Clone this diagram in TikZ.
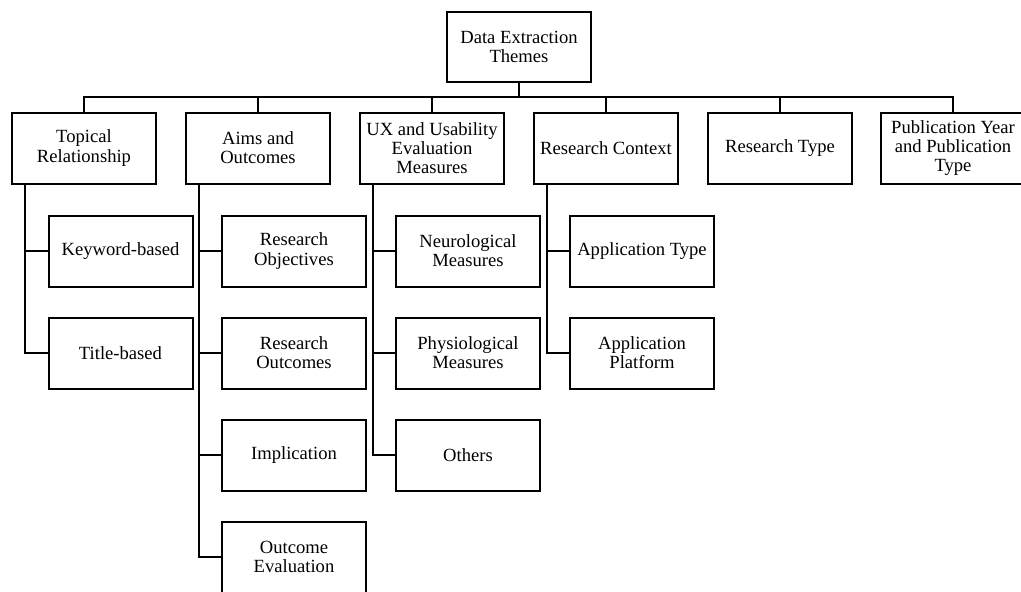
\documentclass[tikz,border=0pt]{standalone}
\usepackage{fontspec}
\setmainfont{Liberation Serif}
\begin{document}
\begin{tikzpicture}[x=1pt,y=-1pt,
  box/.style={draw=black, line width=2pt, fill=white, minimum width=144pt,
    minimum height=71pt, inner sep=0pt, align=center,
    font=\fontsize{18.6}{19.2}\selectfont},
  link/.style={draw=black, line width=2pt}]
\clip (0,0) rectangle (1021,592);
\fill[white] (0,0) rectangle (1021,592);

% root
\node[box, minimum height=70pt] (root) at (519,47) {Data Extraction\\Themes};

% first level
\node[box] (top) at (84,148)  {Topical\\Relationship};
\node[box] (aim) at (258,148) {Aims and\\Outcomes};
\node[box] (ux)  at (432,148) {UX and Usability\\Evaluation\\Measures};
\node[box] (ctx) at (606,148) {Research Context};
\node[box] (typ) at (780,148) {Research Type};
\node[box] (pub) at (953,148) {Publication Year\\and Publication\\Type};

% second level
\node[box] (kw)  at (120.5,251) {Keyword-based};
\node[box] (ti)  at (120.5,353) {Title-based};
\node[box] (ro)  at (294,251) {Research\\Objectives};
\node[box] (rout) at (294,353) {Research\\Outcomes};
\node[box] (imp) at (294,455) {Implication};
\node[box] (oe)  at (294,557) {Outcome\\Evaluation};
\node[box] (neu) at (468,251) {Neurological\\Measures};
\node[box] (phy) at (468,353) {Physiological\\Measures};
\node[box] (oth) at (468,455) {Others};
\node[box] (apt) at (642,251) {Application Type};
\node[box] (app) at (642,353) {Application\\Platform};

% bus from the root to the first level
\coordinate (bus) at (519,97);
\foreach \c in {top,aim,ux,ctx,typ,pub}
  \draw[link] (root.south) -- (bus) -| (\c.north);

% spines from each theme to its sub-themes
\foreach \p/\c in {top/kw,top/ti,aim/ro,aim/rout,aim/imp,aim/oe,
                   ux/neu,ux/phy,ux/oth,ctx/apt,ctx/app}
  \draw[link] ([xshift=14pt]\p.south west) |- (\c.west);
\end{tikzpicture}
\end{document}
